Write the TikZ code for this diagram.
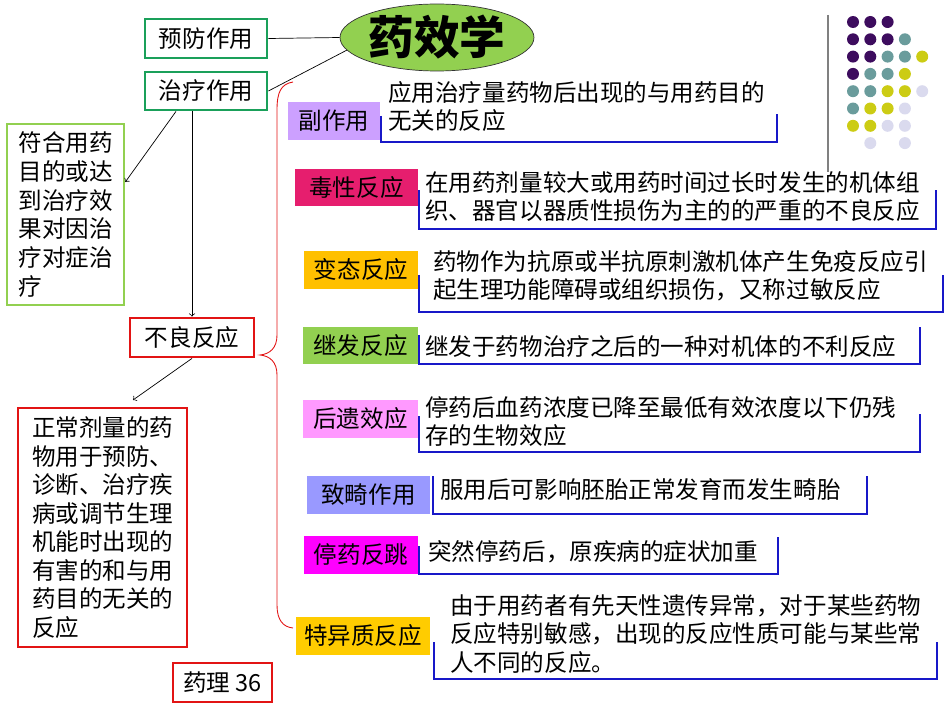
\documentclass[tikz,border=0pt]{standalone}
\usepackage{fontspec}
\setmainfont{Noto Sans CJK SC}
\usetikzlibrary{shapes.geometric}

\definecolor{vora}{RGB}{26,160,90}
\definecolor{verdclar}{RGB}{146,208,80}
\definecolor{vermell}{RGB}{226,20,20}
\definecolor{blau}{RGB}{24,24,200}
\definecolor{lila}{RGB}{204,160,255}
\definecolor{rosa}{RGB}{230,30,110}
\definecolor{groc}{RGB}{255,192,0}
\definecolor{rosaclar}{RGB}{255,153,255}
\definecolor{blauclar}{RGB}{153,153,255}
\definecolor{magenta}{RGB}{255,0,255}
\definecolor{or}{RGB}{255,204,0}
\definecolor{dpur}{RGB}{61,12,94}
\definecolor{dtea}{RGB}{106,156,156}
\definecolor{dgro}{RGB}{204,204,20}
\definecolor{dlil}{RGB}{218,218,238}

\begin{document}
\begin{tikzpicture}[x=0.02cm, y=-0.02cm, font=\fontsize{13.4}{16}\selectfont,
    caixaverda/.style={draw=vora, line width=1.6pt, inner sep=0pt},
    caixavermella/.style={draw=vermell, line width=1.6pt, inner sep=0pt, minimum height=0.78cm},
    etiqueta/.style={inner sep=0pt, minimum height=0.76cm},
    descripcio/.style={anchor=west, align=left, inner sep=0pt, font=\fontsize{13.4}{15.8}\selectfont},
    claudator/.style={draw=blau, line width=1.1pt}]
    \useasboundingbox (0,0) rectangle (950,713);

    % 1. EL TITOL
    \node[ellipse, draw=black!80, fill=verdclar, minimum width=3.88cm, minimum height=1.34cm, inner sep=0pt,
          font=\fontsize{26}{30}\selectfont\bfseries] (titol) at (437,37.5) {药效学};

    % 2. COLUMNA ESQUERRA
    \node[caixaverda, minimum width=2.44cm, minimum height=0.78cm] (prev) at (206,38.5) {预防作用};
    \node[caixaverda, minimum width=2.44cm, minimum height=0.76cm] (trac) at (206,91) {治疗作用};
    \draw (prev.east) -- (titol.west);
    \draw (trac.east) -- (titol.188);

    \node[draw=verdclar, line width=1.5pt, minimum width=2.34cm, minimum height=3.62cm, text width=1.88cm,
          align=left, inner sep=0pt, font=\fontsize{13.4}{16.4}\selectfont] (fins) at (65.5,214.5)
          {符合用药\\目的或达\\到治疗效\\果对因治\\疗对症治\\疗};
    \draw[->] ([xshift=-0.6cm]trac.south) -- ([yshift=0.65cm]fins.east);

    \node[caixavermella, minimum width=2.48cm] (adv) at (192,337.5) {不良反应};
    \draw[->] (trac.south -| adv.north) -- (adv.north);

    \node[draw=vermell, line width=0.6pt, minimum width=3.38cm, minimum height=4.78cm, text width=2.82cm,
          align=left, inner sep=0pt, font=\fontsize{13.4}{16.2}\selectfont] (defi) at (102.5,527.5)
          {正常剂量的药\\物用于预防、\\诊断、治疗疾\\病或调节生理\\机能时出现的\\有害的和与用\\药目的无关的\\反应};
    \coordinate (defin) at (133,400);
    \draw[->] (adv.south) -- (defin);

    \node[caixavermella, minimum width=1.98cm] (pag) at (222.5,682.5) {药理 36};

    % 3. LA CLAU
    \draw[vermell, line width=0.5pt] (293,82) .. controls (281,84) and (277,92) .. (277,110) -- (277,335)
        .. controls (277,348) and (270,354) .. (260,355) .. controls (270,356) and (277,362) .. (277,375)
        -- (277,605) .. controls (277,620) and (283,627) .. (293,628);

    % 4. TIPUS DE REACCIONS
    \foreach \nom/\cx/\cy/\w/\col/\txt in {
        fzy/334/121/1.84/lila/副作用, dx/356.5/187.5/2.46/rosa/毒性反应,
        bt/361/270/2.28/groc/变态反应, jf/360.5/345.5/2.30/verdclar/继发反应,
        hy/360.5/419/2.30/rosaclar/后遗效应, zj/368.5/494.5/2.46/blauclar/致畸作用,
        tf/361/554.5/2.28/magenta/停药反跳, ty/363/636/2.68/or/特异质反应} {
        \node[etiqueta, fill=\col, minimum width=\w cm] (\nom) at (\cx,\cy) {\txt};
    }

    \node[descripcio] (dfzy) at (388,106.5) {应用治疗量药物后出现的与用药目的\\无关的反应};
    \node[descripcio] (ddx) at (425,196.5) {在用药剂量较大或用药时间过长时发生的机体组\\织、器官以器质性损伤为主的的严重的不良反应};
    \node[descripcio] (dbt) at (433,276) {药物作为抗原或半抗原刺激机体产生免疫反应引\\起生理功能障碍或组织损伤，又称过敏反应};
    \node[descripcio] (djf) at (425,347) {继发于药物治疗之后的一种对机体的不利反应};
    \node[descripcio] (dhy) at (425,421.5) {停药后血药浓度已降至最低有效浓度以下仍残\\存的生物效应};
    \node[descripcio] (dzj) at (440,490) {服用后可影响胚胎正常发育而发生畸胎};
    \node[descripcio] (dtf) at (428,552) {突然停药后，原疾病的症状加重};
    \node[descripcio, font=\fontsize{13.4}{16.2}\selectfont] (dty) at (450,634)
        {由于用药者有先天性遗传异常，对于某些药物\\反应特别敏感，出现的反应性质可能与某些常\\人不同的反应。};

    % claudators blaus
    \foreach \xa/\ya/\yb/\xb/\yc in {
        381/116/142/777/114, 419/190/229/936/190, 419/275/312/943/275, 419/335/364/920/327,
        419/416/452/920/414, 433/476/514/867/476, 419/546/574/778/537, 434/642/679/937/642} {
        \draw[claudator] (\xa,\ya) -- (\xa,\yb) -- (\xb,\yb) -- (\xb,\yc);
    }

    % 5. PUNTS DECORATIUS
    \draw[gray, line width=0.6pt] (828,15) -- (828,172);
    \foreach \c/\r/\col in {
        0/0/dpur, 1/0/dpur, 2/0/dpur,
        0/1/dpur, 1/1/dpur, 2/1/dpur, 3/1/dtea,
        0/2/dpur, 1/2/dpur, 2/2/dtea, 3/2/dtea, 4/2/dgro,
        0/3/dpur, 1/3/dtea, 2/3/dtea, 3/3/dgro,
        0/4/dtea, 1/4/dtea, 2/4/dgro, 3/4/dgro, 4/4/dlil,
        0/5/dtea, 1/5/dgro, 2/5/dgro, 3/5/dlil,
        0/6/dgro, 1/6/dgro, 2/6/dlil, 3/6/dlil,
        1/7/dlil, 3/7/dlil} {
        \fill[\col] ({853+17.3*\c},{22+17.3*\r}) circle (0.12cm);
    }

\end{tikzpicture}
\end{document}
